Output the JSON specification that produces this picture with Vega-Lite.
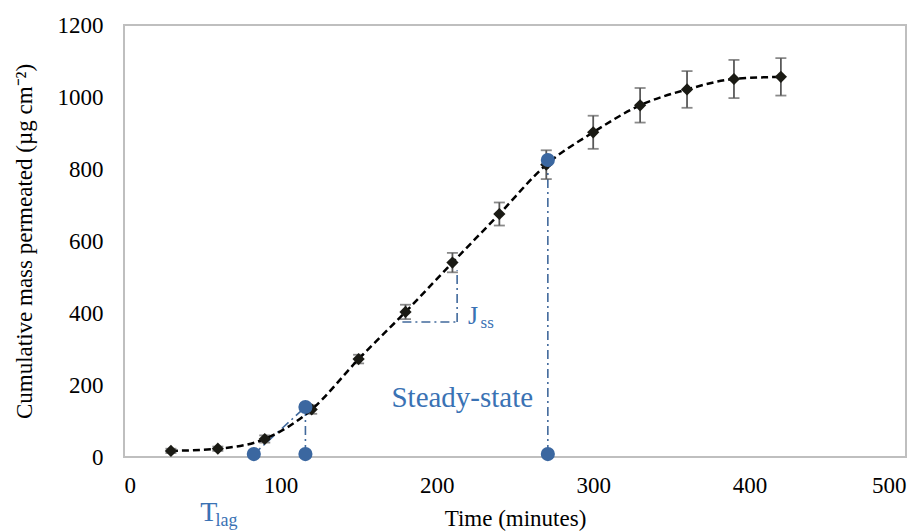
{
  "$schema": "https://vega.github.io/schema/vega-lite/v6.json",
  "autosize": {"type": "none"},
  "width": 782,
  "height": 432,
  "padding": {"left": 124, "top": 25, "right": 16, "bottom": 74},
  "config": {
    "view": {"stroke": "#bfbfbf", "strokeWidth": 2},
    "font": "Liberation Serif"
  },
  "datasets": {
    "main": [
      {"t": 30, "m": 17, "err": 6},
      {"t": 60, "m": 23, "err": 6},
      {"t": 90, "m": 50, "err": 10},
      {"t": 120, "m": 132, "err": 12},
      {"t": 150, "m": 272, "err": 12},
      {"t": 180, "m": 403, "err": 20},
      {"t": 210, "m": 540, "err": 27},
      {"t": 240, "m": 675, "err": 32},
      {"t": 270, "m": 812, "err": 40},
      {"t": 300, "m": 902, "err": 46},
      {"t": 330, "m": 977, "err": 48},
      {"t": 360, "m": 1021, "err": 51},
      {"t": 390, "m": 1050, "err": 53},
      {"t": 420, "m": 1056, "err": 52}
    ],
    "guides": [
      {"x1": 116, "y1": 8, "x2": 116, "y2": 139},
      {"x1": 271, "y1": 8, "x2": 271, "y2": 825},
      {"x1": 83, "y1": 8, "x2": 116, "y2": 139},
      {"x1": 178, "y1": 375, "x2": 213, "y2": 375},
      {"x1": 213, "y1": 375, "x2": 213, "y2": 519}
    ],
    "circles": [
      {"x": 83, "y": 8},
      {"x": 116, "y": 139},
      {"x": 116, "y": 8},
      {"x": 271, "y": 825},
      {"x": 271, "y": 8}
    ],
    "labels": [
      {"x": 171, "y": 139, "txt": "Steady-state", "size": 29},
      {"x": 220, "y": 369, "txt": "J", "size": 26},
      {"x": 228, "y": 358, "txt": "ss", "size": 17},
      {"x": 48.7, "y": -178, "txt": "T", "size": 28},
      {"x": 58.5, "y": -192, "txt": "lag", "size": 18}
    ]
  },
  "encoding": {
    "x": {"type": "quantitative", "scale": {"domain": [0, 500]}, "axis": {"values": [0, 100, 200, 300, 400, 500], "format": "d", "title": "Time (minutes)", "grid": false, "domain": false, "ticks": false, "labelFont": "Liberation Serif", "titleFont": "Liberation Serif", "labelFontSize": 23, "titleFontSize": 23, "labelColor": "#000000", "titleColor": "#000000", "titleFontWeight": "normal", "labelPadding": 17, "titlePadding": 10}},
    "y": {"type": "quantitative", "scale": {"domain": [0, 1200]}, "axis": {"values": [0, 200, 400, 600, 800, 1000, 1200], "format": "d", "title": "Cumulative mass permeated (µg cm⁻²)", "grid": false, "domain": false, "ticks": false, "labelFont": "Liberation Serif", "titleFont": "Liberation Serif", "labelFontSize": 23, "titleFontSize": 23, "labelColor": "#000000", "titleColor": "#000000", "titleFontWeight": "normal", "labelPadding": 21, "titlePadding": 21}}
  },
  "layer": [
    {
      "data": {"name": "guides"},
      "mark": {"type": "rule", "color": "#41699c", "strokeWidth": 1.6, "strokeDash": [9, 4, 2, 4]},
      "encoding": {"x": {"field": "x1"}, "y": {"field": "y1"}, "x2": {"field": "x2"}, "y2": {"field": "y2"}}
    },
    {
      "data": {"name": "main"},
      "transform": [{"calculate": "datum.m - datum.err", "as": "lo"}, {"calculate": "datum.m + datum.err", "as": "hi"}],
      "mark": {"type": "rule", "color": "#595959", "strokeWidth": 1.8},
      "encoding": {"x": {"field": "t"}, "y": {"field": "lo"}, "y2": {"field": "hi"}}
    },
    {
      "data": {"name": "main"},
      "transform": [{"calculate": "datum.m - datum.err", "as": "lo"}],
      "mark": {"type": "tick", "orient": "horizontal", "color": "#595959", "size": 11, "thickness": 1.8},
      "encoding": {"x": {"field": "t"}, "y": {"field": "lo"}}
    },
    {
      "data": {"name": "main"},
      "transform": [{"calculate": "datum.m + datum.err", "as": "hi"}],
      "mark": {"type": "tick", "orient": "horizontal", "color": "#595959", "size": 11, "thickness": 1.8},
      "encoding": {"x": {"field": "t"}, "y": {"field": "hi"}}
    },
    {
      "data": {"name": "main"},
      "mark": {"type": "line", "color": "#000000", "strokeWidth": 2.5, "strokeDash": [7, 4], "interpolate": "monotone"},
      "encoding": {"x": {"field": "t"}, "y": {"field": "m"}}
    },
    {
      "data": {"name": "main"},
      "mark": {"type": "point", "shape": "diamond", "filled": true, "color": "#1a1a14", "opacity": 1, "size": 150},
      "encoding": {"x": {"field": "t"}, "y": {"field": "m"}}
    },
    {
      "data": {"name": "circles"},
      "mark": {"type": "circle", "color": "#3b67a0", "opacity": 1, "size": 200},
      "encoding": {"x": {"field": "x"}, "y": {"field": "y"}}
    },
    {
      "data": {"name": "labels"},
      "mark": {"type": "text", "color": "#3a72b4", "align": "left", "baseline": "alphabetic", "font": "Liberation Serif"},
      "encoding": {"x": {"field": "x"}, "y": {"field": "y"}, "text": {"field": "txt"}, "size": {"field": "size", "type": "quantitative", "scale": null}}
    }
  ]
}
